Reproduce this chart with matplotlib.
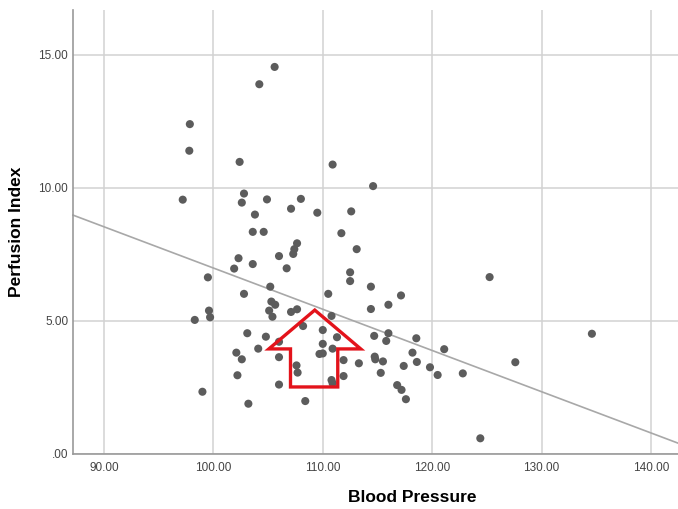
import matplotlib
matplotlib.use("Agg")
import matplotlib.pyplot as plt
from matplotlib.patches import Polygon

plt.rcParams['font.family'] = ['Liberation Sans', 'DejaVu Sans']

# Data
blood_pressure = [
    105.6, 104.2, 97.85, 97.8, 102.4, 110.9, 114.6, 97.2, 102.8, 102.6,
    104.9, 108.0, 107.1, 109.5, 112.6, 103.8, 103.6, 104.6, 107.65, 107.4,
    107.3, 106.0, 102.3, 101.9, 103.6, 106.7, 99.5, 105.2, 102.8, 111.7,
    113.1, 112.5, 112.5, 114.4, 117.15, 110.5, 116.0, 105.3, 105.65, 105.1,
    105.4, 99.6, 99.7, 98.3, 107.1, 107.65, 110.8, 114.4, 103.1, 104.8,
    108.2, 110.0, 111.3, 114.7, 116.0, 115.8, 118.55, 104.1, 110.0, 110.9,
    102.1, 102.6, 106.0, 109.7, 110.0, 111.9, 113.3, 114.75, 114.8, 115.5,
    118.2, 118.6, 107.6, 107.7, 111.9, 115.3, 117.4, 102.2, 106.0, 110.8,
    110.9, 116.8, 117.2, 117.6, 99.0, 103.2, 108.4, 121.1, 119.8, 120.5,
    125.25, 134.6, 127.6, 122.8, 124.4, 106.0,
]
perfusion_index = [
    14.55, 13.9, 12.4, 11.4, 10.98, 10.88, 10.07, 9.56, 9.79, 9.45,
    9.57, 9.59, 9.22, 9.07, 9.12, 9.0, 8.35, 8.35, 7.92, 7.70,
    7.52, 7.44, 7.36, 6.97, 7.14, 6.98, 6.64, 6.29, 6.02, 8.3,
    7.70, 6.83, 6.50, 6.29, 5.96, 6.02, 5.61, 5.73, 5.61, 5.39,
    5.16, 5.39, 5.14, 5.04, 5.34, 5.44, 5.19, 5.45, 4.54, 4.41,
    4.81, 4.66, 4.39, 4.44, 4.54, 4.25, 4.35, 3.96, 4.14, 3.96,
    3.81, 3.56, 3.64, 3.76, 3.78, 3.53, 3.41, 3.66, 3.56, 3.48,
    3.81, 3.46, 3.33, 3.06, 2.93, 3.05, 3.31, 2.96, 2.61, 2.78,
    2.66, 2.59, 2.41, 2.06, 2.34, 1.89, 1.99, 3.94, 3.26, 2.97,
    6.65, 4.52, 3.45, 3.03, 0.59, 4.22,
]

# Fit line
fit_intercept = 8.98     # value at x = fit_x0
fit_x0 = 87.17
fit_slope = -0.155

# Red arrow outline (data coordinates)
arrow_x = [109.27, 113.47, 111.37, 111.37, 107.05, 107.05, 105.07]
arrow_y = [5.41, 3.95, 3.95, 2.52, 2.52, 3.95, 3.95]

x_ticks = [90, 100, 110, 120, 130, 140]
y_ticks = [0, 5, 10, 15]
x_lim = (87.17, 142.47)
y_lim = (0, 16.69)

fig = plt.figure(figsize=(6.78, 5.09), dpi=100)
ax = fig.add_axes([73/678, 1 - 454/509, 605/678, 444/509])

ax.set_xlim(*x_lim)
ax.set_ylim(*y_lim)
ax.set_xticks(x_ticks)
ax.set_yticks(y_ticks)
ax.set_xticklabels(["%.2f" % v for v in x_ticks])
ax.set_yticklabels([".00" if v == 0 else "%.2f" % v for v in y_ticks])
ax.grid(True, color='#d2d2d2', linewidth=1.1)
ax.set_axisbelow(True)
ax.tick_params(length=0, labelsize=8.5, labelcolor='#444444')
ax.tick_params(axis='x', pad=6)
ax.tick_params(axis='y', pad=3.5)

for s in ['top', 'right']:
    ax.spines[s].set_visible(False)
for s in ['left', 'bottom']:
    ax.spines[s].set_color('#999999')
    ax.spines[s].set_linewidth(1.2)

ax.scatter(blood_pressure, perfusion_index, s=34, color='#5c5c5c',
           edgecolors='none', zorder=3)

xs = [x_lim[0], x_lim[1]]
ys = [fit_intercept + fit_slope * (x - fit_x0) for x in xs]
ax.plot(xs, ys, color='#a8a8a8', linewidth=1.2, zorder=2, clip_on=False)

arrow = Polygon(list(zip(arrow_x, arrow_y)), closed=True, fill=False,
                edgecolor='#e3131b', linewidth=2.4, zorder=4, joinstyle='miter')
ax.add_patch(arrow)

ax.set_xlabel("Blood Pressure", fontsize=12.5, fontweight='bold')
ax.set_ylabel("Perfusion Index", fontsize=12.5, fontweight='bold')
ax.xaxis.set_label_coords((412 - 73) / 605, -(497 - 454) / 444)
ax.yaxis.set_label_coords(-(73 - 17) / 605, 0.5)
ax.xaxis.label.set_va('center')
ax.yaxis.label.set_va('center')

fig.savefig("out.png", dpi=100)
